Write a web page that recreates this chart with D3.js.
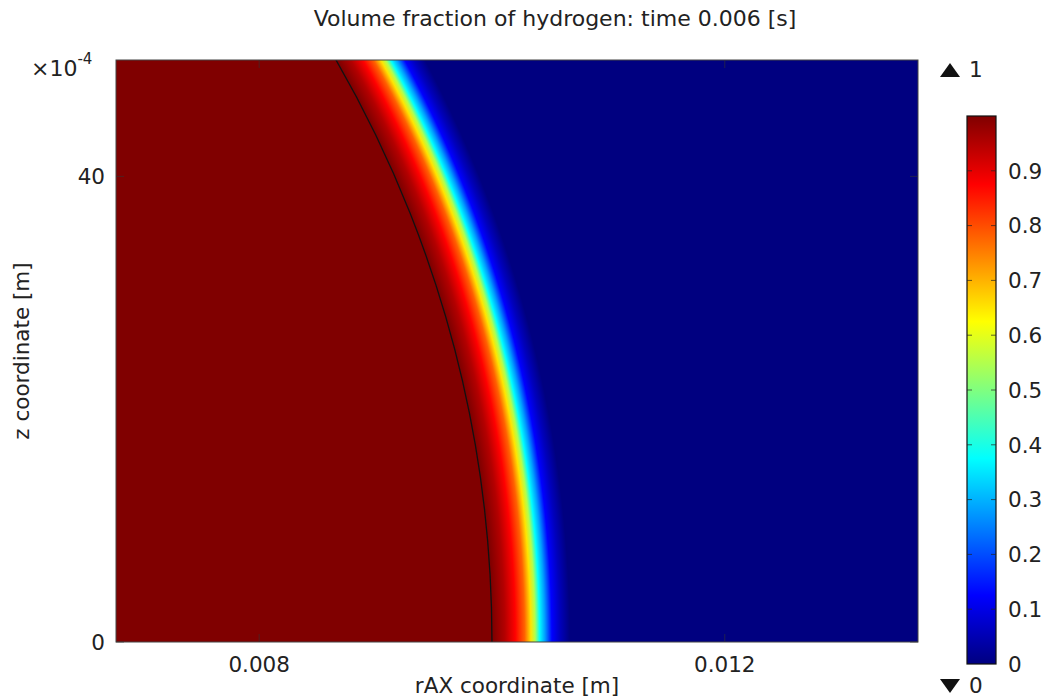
<!DOCTYPE html>
<html>
<head>
<meta charset="utf-8">
<script src="https://cdn.jsdelivr.net/npm/d3@7"></script>
<style>
  body { margin: 0; background: #fff; }
  svg text { font-family: "DejaVu Sans", sans-serif; fill: #222; }
</style>
</head>
<body>
<svg id="chart" width="1047" height="699"></svg>
<script>
// ----------------------
// data
// ----------------------
const titleText = "Volume fraction of hydrogen: time 0.006 [s]";
const xDomain = [0.00677, 0.01366];      // rAX [m]
const yDomain = [0, 0.005];              // z [m]
const xTicks = [0.008, 0.012];
const xTickLabels = ["0.008", "0.012"];
const yTicks = [0, 0.004];
const yTickLabels = ["0", "40"];         // shown as x10^-4
const dropRadius = 0.01;                 // black boundary line (circle about origin)
// volume fraction vs distance from origin [m]
const fracDist  = [0.01001, 0.01011, 0.01020, 0.01028, 0.010335, 0.01037, 0.01041, 0.010455, 0.010515, 0.010585, 0.01067];
const fracValue = [1,       0.95,    0.875,   0.78,    0.65,     0.55,    0.375,   0.28,     0.125,    0.06,     0];
const cbTicks = [0, 0.1, 0.2, 0.3, 0.4, 0.5, 0.6, 0.7, 0.8, 0.9];
const cbMax = 1, cbMin = 0;

// ----------------------
// layout
// ----------------------
const svg = d3.select("#chart");
const plot = { left: 116, right: 918, bottom: 642 };
const x = d3.scaleLinear().domain(xDomain).range([plot.left, plot.right]);
const pxPerUnit = (plot.right - plot.left) / (xDomain[1] - xDomain[0]);
plot.top = plot.bottom - (yDomain[1] - yDomain[0]) * pxPerUnit;
const y = d3.scaleLinear().domain(yDomain).range([plot.bottom, plot.top]);

// jet colour map
function jet(v) {
    const c = t => Math.max(0, Math.min(1, t));
    const r = c(1.5 - Math.abs(4 * v - 3));
    const g = c(1.5 - Math.abs(4 * v - 2));
    const b = c(1.5 - Math.abs(4 * v - 1));
    return d3.rgb(r * 255, g * 255, b * 255).formatHex();
}

const defs = svg.append("defs");
defs.append("clipPath").attr("id", "plotClip")
    .append("rect")
    .attr("x", plot.left).attr("y", plot.top)
    .attr("width", plot.right - plot.left).attr("height", plot.bottom - plot.top);

// radial field centred at (r=0, z=0)
const gradR = x(fracDist[fracDist.length - 1] * 1.02) - x(0);
const field = defs.append("radialGradient")
    .attr("id", "field")
    .attr("gradientUnits", "userSpaceOnUse")
    .attr("cx", x(0)).attr("cy", y(0))
    .attr("fx", x(0)).attr("fy", y(0))
    .attr("r", gradR);
fracDist.forEach((d, i) => {
    field.append("stop")
        .attr("offset", (x(d) - x(0)) / gradR)
        .attr("stop-color", jet(fracValue[i]));
});

const g = svg.append("g");
g.append("rect")
    .attr("x", plot.left).attr("y", plot.top)
    .attr("width", plot.right - plot.left).attr("height", plot.bottom - plot.top)
    .attr("fill", "url(#field)");

// boundary line
const arcPath = d3.path();
arcPath.arc(x(0), y(0), x(dropRadius) - x(0), 0, -Math.PI / 2, true);
g.append("path")
    .attr("d", arcPath.toString())
    .attr("clip-path", "url(#plotClip)")
    .attr("fill", "none")
    .attr("stroke", "#111")
    .attr("stroke-width", 1.3);

// frame
g.append("rect")
    .attr("x", plot.left).attr("y", plot.top)
    .attr("width", plot.right - plot.left).attr("height", plot.bottom - plot.top)
    .attr("fill", "none").attr("stroke", "#444").attr("stroke-width", 1);

// ticks (inside, all four sides)
const tickLen = 8;
xTicks.forEach(t => {
    g.append("line").attr("x1", x(t)).attr("x2", x(t))
        .attr("y1", plot.bottom).attr("y2", plot.bottom - tickLen)
        .attr("stroke", "#333").attr("stroke-opacity", 0.6);
    g.append("line").attr("x1", x(t)).attr("x2", x(t))
        .attr("y1", plot.top).attr("y2", plot.top + tickLen)
        .attr("stroke", "#333").attr("stroke-opacity", 0.6);
});
yTicks.forEach(t => {
    g.append("line").attr("x1", plot.left).attr("x2", plot.left + tickLen)
        .attr("y1", y(t)).attr("y2", y(t))
        .attr("stroke", "#333").attr("stroke-opacity", 0.6);
    g.append("line").attr("x1", plot.right).attr("x2", plot.right - tickLen)
        .attr("y1", y(t)).attr("y2", y(t))
        .attr("stroke", "#333").attr("stroke-opacity", 0.6);
});

// tick labels
g.selectAll("text.xtick").data(xTicks).enter().append("text")
    .attr("class", "xtick")
    .attr("x", d => x(d)).attr("y", 672)
    .attr("text-anchor", "middle")
    .style("font-size", "21.5px")
    .text((d, i) => xTickLabels[i]);

g.selectAll("text.ytick").data(yTicks).enter().append("text")
    .attr("class", "ytick")
    .attr("x", 105).attr("y", d => y(d))
    .attr("dy", "0.36em")
    .attr("text-anchor", "end")
    .style("font-size", "21.5px")
    .text((d, i) => yTickLabels[i]);

// x10^-4 multiplier
const mult = g.append("text").attr("x", 31).attr("y", 76).style("font-size", "22px");
mult.append("tspan").text("×10");
mult.append("tspan").attr("dy", -12).style("font-size", "15px").text("-4");

// axis labels + title
svg.append("text")
    .attr("x", (plot.left + plot.right) / 2).attr("y", 693)
    .attr("text-anchor", "middle")
    .style("font-size", "21.5px")
    .text("rAX coordinate [m]");

svg.append("text")
    .attr("transform", `translate(29,${(plot.top + plot.bottom) / 2}) rotate(-90)`)
    .attr("text-anchor", "middle")
    .style("font-size", "21.5px")
    .text("z coordinate [m]");

svg.append("text")
    .attr("x", 555).attr("y", 26)
    .attr("text-anchor", "middle")
    .style("font-size", "22px")
    .text(titleText);

// ----------------------
// colour bar
// ----------------------
const cb = { left: 967, right: 996, top: 116, bottom: 664 };
const cbScale = d3.scaleLinear().domain([cbMin, cbMax]).range([cb.bottom, cb.top]);
const cbGrad = defs.append("linearGradient")
    .attr("id", "cbGrad")
    .attr("x1", 0).attr("y1", 1).attr("x2", 0).attr("y2", 0);
[0, 0.125, 0.375, 0.625, 0.875, 1].forEach(v => {
    cbGrad.append("stop").attr("offset", v).attr("stop-color", jet(v));
});
svg.append("rect")
    .attr("x", cb.left).attr("y", cb.top)
    .attr("width", cb.right - cb.left).attr("height", cb.bottom - cb.top)
    .attr("fill", "url(#cbGrad)")
    .attr("stroke", "#111").attr("stroke-width", 1.2);

cbTicks.forEach(t => {
    if (t > cbMin) {
        svg.append("line").attr("x1", cb.left).attr("x2", cb.left + 5)
            .attr("y1", cbScale(t)).attr("y2", cbScale(t))
            .attr("stroke", "#222").attr("stroke-opacity", 0.7);
        svg.append("line").attr("x1", cb.right).attr("x2", cb.right - 5)
            .attr("y1", cbScale(t)).attr("y2", cbScale(t))
            .attr("stroke", "#222").attr("stroke-opacity", 0.7);
    }
    svg.append("text")
        .attr("x", 1008).attr("y", cbScale(t))
        .attr("dy", "0.36em")
        .style("font-size", "21.5px")
        .text(t === 0 ? "0" : t.toFixed(1));
});

// max / min markers
svg.append("path")
    .attr("d", "M940,77 L960,77 L950,63 Z")
    .attr("fill", "#111");
svg.append("text").attr("x", 969).attr("y", 77).style("font-size", "21.5px").text(String(cbMax));
svg.append("path")
    .attr("d", "M940,679 L960,679 L950,693 Z")
    .attr("fill", "#111");
svg.append("text").attr("x", 969).attr("y", 693).style("font-size", "21.5px").text(String(cbMin));
</script>
</body>
</html>
